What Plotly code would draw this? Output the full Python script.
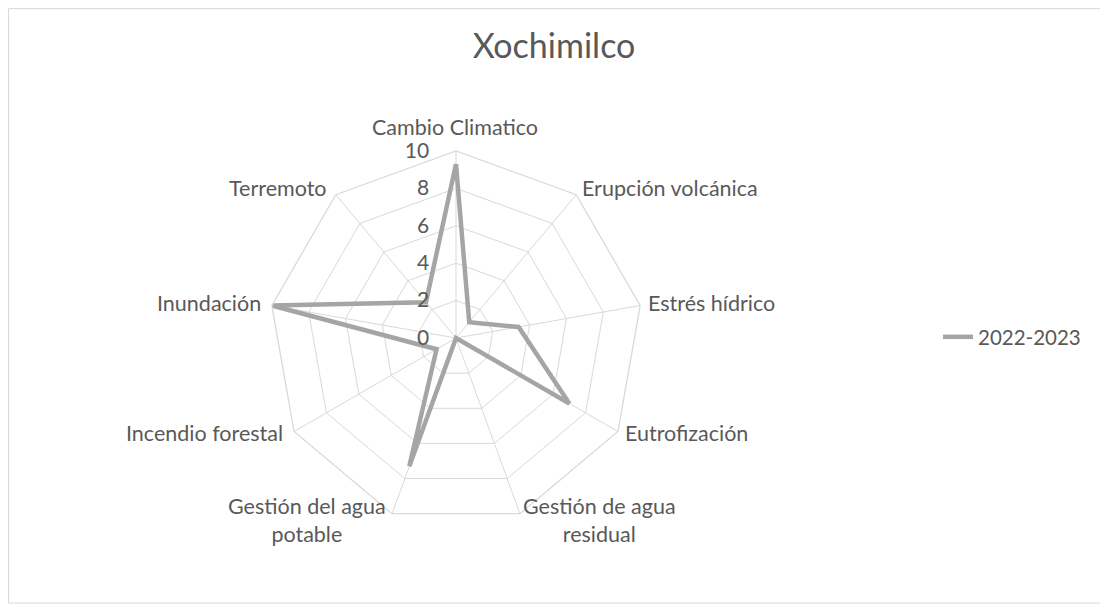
import plotly.graph_objs as go

categorias = [
    "Cambio Climatico",
    "Erupción volcánica",
    "Estrés hídrico",
    "Eutrofización",
    "Gestión de agua residual",
    "Gestión del agua potable",
    "Incendio forestal",
    "Inundación",
    "Terremoto",
]
etiquetas = [
    "Cambio Climatico",
    "Erupción volcánica",
    "Estrés hídrico",
    "Eutrofización",
    "Gestión de agua<br>residual",
    "Gestión del agua<br>potable",
    "Incendio forestal",
    "Inundación",
    "Terremoto",
]
valores_2022_2023 = [9.3, 1.1, 3.4, 7.0, 0, 7.3, 1.2, 10, 2.5]
ticks_radiales = [0, 2, 4, 6, 8, 10]

gris_texto = '#595959'
gris_rejilla = '#D9D9D9'
W, H = 1108, 605

# posición (px) y anclaje de cada etiqueta de categoría
pos_etiquetas = [
    (447, 119, 'center'),
    (572, 180, 'left'),
    (638, 295, 'left'),
    (615, 425, 'left'),
    (591, 512, 'center'),
    (299, 512, 'center'),
    (277, 425, 'right'),
    (255, 295, 'right'),
    (321, 180, 'right'),
]

fig = go.Figure(data=[
    go.Scatterpolar(
        r=valores_2022_2023 + valores_2022_2023[:1],
        theta=categorias + categorias[:1],
        mode='lines',
        name='2022-2023',
        line=dict(color='#A5A5A5', width=4.5),
    )
])

anotaciones = []
for texto, (px, py, anc) in zip(etiquetas, pos_etiquetas):
    anotaciones.append(dict(
        text=texto, x=px / W, y=1 - py / H,
        xref='paper', yref='paper',
        xanchor=anc, yanchor='middle', align='center',
        showarrow=False,
        font=dict(family='Lato', size=21.5, color=gris_texto),
    ))

fig.update_layout(
    width=W,
    height=H,
    margin=dict(l=0, r=0, t=0, b=0),
    paper_bgcolor='white',
    font=dict(family='Lato', size=21, color=gris_texto),
    title=dict(
        text='Xochimilco',
        x=546 / W, xanchor='center',
        y=1 - 38 / H, yanchor='middle',
        font=dict(family='Lato', size=34, color=gris_texto),
    ),
    showlegend=True,
    legend=dict(
        x=930 / W, xanchor='left',
        y=1 - 329 / H, yanchor='middle',
        bgcolor='rgba(0,0,0,0)',
        font=dict(size=20.5, color=gris_texto),
    ),
    polar=dict(
        domain=dict(x=[261 / W, 635 / W], y=[88 / H, 462 / H]),
        gridshape='linear',
        bgcolor='white',
        radialaxis=dict(
            range=[0, 10],
            tickvals=ticks_radiales,
            angle=90,
            tickangle=90,
            side='counterclockwise',
            showline=False,
            gridcolor=gris_rejilla,
            gridwidth=1.3,
            ticks='outside',
            ticklen=19,
            tickcolor='rgba(0,0,0,0)',
            tickfont=dict(size=21, color=gris_texto),
        ),
        angularaxis=dict(
            rotation=90,
            direction='clockwise',
            showline=True,
            linecolor=gris_rejilla,
            linewidth=1.3,
            gridcolor=gris_rejilla,
            gridwidth=1.3,
            ticks='',
            showticklabels=False,
        ),
    ),
    annotations=anotaciones,
    shapes=[dict(
        type='rect', xref='paper', yref='paper',
        x0=0.0005, x1=1098 / W, y0=1 - 595 / H, y1=0.999,
        line=dict(color=gris_rejilla, width=1),
    )],
)

fig.write_html("out.html")
